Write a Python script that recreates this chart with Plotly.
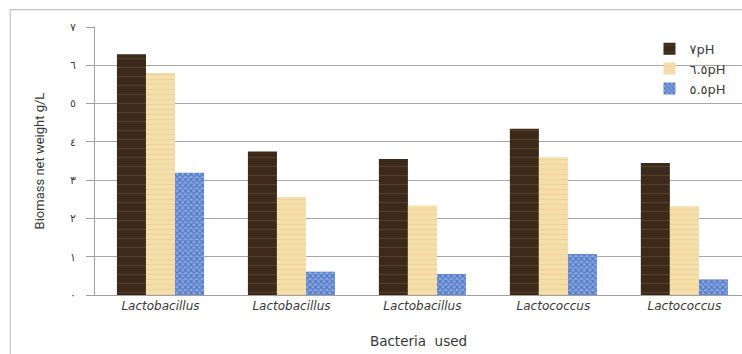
import plotly.graph_objects as go

# Biomass net weight (g/L) per bacterial strain at three pH levels
bacteria = ["Lactobacillus", "Lactobacillus", "Lactobacillus", "Lactococcus", "Lactococcus"]
ph_labels = ["٧pH", "٦.٥pH", "٥.٥pH"]
ph_7_0 = [6.29, 3.75, 3.55, 4.34, 3.45]
ph_6_5 = [5.80, 2.56, 2.34, 3.60, 2.32]
ph_5_5 = [3.19, 0.61, 0.55, 1.07, 0.41]
y_ticks = [0, 1, 2, 3, 4, 5, 6, 7]
y_tick_text = ["٠", "١", "٢", "٣", "٤", "٥", "٦", "٧"]

positions = list(range(len(bacteria)))

styles = [
    dict(color="#3b2919", pattern=dict(shape="-", fgcolor="#6e5535", bgcolor="#3b2919",
                                       size=9, solidity=0.12, fillmode="overlay")),
    dict(color="#f2dba4", pattern=dict(shape="-", fgcolor="#e4c88c", bgcolor="#f4dfab",
                                       size=5, solidity=0.2, fillmode="overlay")),
    dict(color="#7fa3e0", pattern=dict(shape="x", fgcolor="#23449a", bgcolor="#86a8e4",
                                       size=4, solidity=0.5, fillmode="overlay")),
]

fig = go.Figure()
for name, vals, st in zip(ph_labels, [ph_7_0, ph_6_5, ph_5_5], styles):
    fig.add_trace(go.Bar(
        x=positions, y=vals, name=name,
        marker=dict(color=st["color"], pattern=st["pattern"], line=dict(width=0)),
    ))

# light frame around the whole chart
fig.add_shape(type="rect", xref="paper", yref="paper",
              x0=-0.131, x1=1.2, y0=-0.3, y1=1.065,
              line=dict(color="#c4c4c4", width=1.2), layer="below")

fig.update_layout(
    width=742, height=354,
    margin=dict(l=95, r=0, t=27, b=59),
    paper_bgcolor="white", plot_bgcolor="white",
    barmode="group", bargap=0.335, bargroupgap=0,
    font=dict(family="DejaVu Sans", color="#404040"),
    showlegend=True,
    legend=dict(x=0.857, y=0.975, xanchor="left", yanchor="top",
                font=dict(size=13, color="#404040", family="DejaVu Sans"),
                bgcolor="rgba(0,0,0,0)", itemwidth=30, tracegroupgap=4),
    xaxis=dict(
        range=[-0.5, 4.44], tickvals=positions, ticktext=bacteria,
        tickfont=dict(size=12, family="DejaVu Sans", style="italic", color="#383838"),
        showgrid=False, showline=True, linecolor="#a0a0a0", linewidth=1,
        ticks="", zeroline=False,
        title=dict(text="Bacteria  used", font=dict(size=13.5, color="#383838"), standoff=24),
    ),
    yaxis=dict(
        range=[0, 7], tickvals=y_ticks, ticktext=y_tick_text,
        tickfont=dict(size=11, color="#404040"),
        ticklabelstandoff=8,
        showgrid=True, gridcolor="#a8a8a8", gridwidth=1,
        showline=True, linecolor="#a0a0a0", linewidth=1,
        ticks="outside", ticklen=8, tickcolor="#a0a0a0",
        zeroline=False,
        title=dict(text="Biomass net weight g/L",
                   font=dict(size=13, family="Roboto", color="#383838"),
                   standoff=22),
    ),
)

fig.write_html("out.html")
